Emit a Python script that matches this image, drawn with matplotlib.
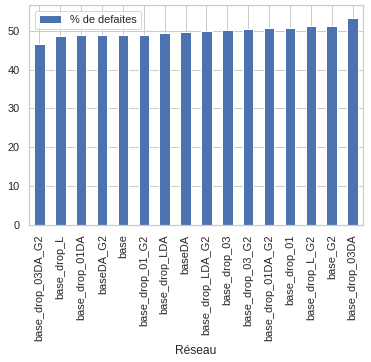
import numpy as np
import pandas as pd
import seaborn as sns
from matplotlib import pyplot as plt

reseaux = ['base_drop_03DA_G2', 'base_drop_L', 'base_drop_01DA', 'baseDA_G2', 'base',
           'base_drop_01_G2', 'base_drop_LDA', 'baseDA', 'base_drop_LDA_G2', 'base_drop_03',
           'base_drop_03_G2', 'base_drop_01DA_G2', 'base_drop_01', 'base_drop_L_G2',
           'base_G2', 'base_drop_03DA']
defaites = [46.6, 48.7, 48.9, 48.9, 48.9, 48.9, 49.4, 49.7, 49.9, 50.2,
            50.5, 50.7, 50.7, 51.2, 51.2, 53.3]

sns.set_theme(style='whitegrid')
plt.rcParams['font.family'] = ['Liberation Sans', 'DejaVu Sans']

df = pd.DataFrame({'Réseau': reseaux, '% de defaites': defaites}).set_index('Réseau')

fig = plt.figure(figsize=(371 / 72, 362 / 72), dpi=72)
ax = fig.add_axes([29 / 371, 137 / 362, 334 / 371, 220 / 362])

df.plot.bar(ax=ax, color='#4c72b0')

ax.set_ylim(0, 56.6)
ax.tick_params(axis='both', labelsize=11)
ax.set_xlabel('Réseau', fontsize=12)
ax.legend(loc='upper left', fontsize=11)

fig.savefig('out.png', dpi=72)
